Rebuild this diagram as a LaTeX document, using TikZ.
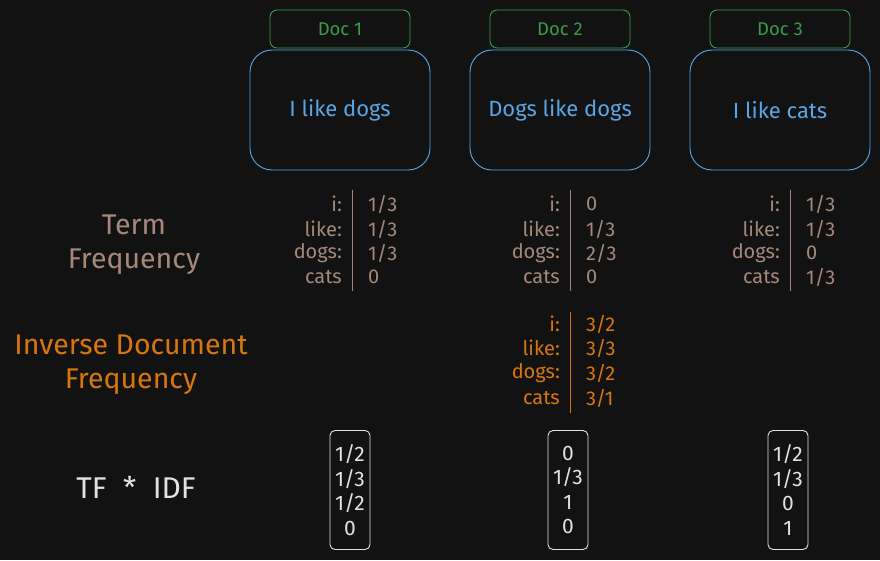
\documentclass[tikz,border=0pt]{standalone}
\usepackage{fontspec}
\setmainfont{Fira Sans}
\usetikzlibrary{positioning}
\definecolor{DBack}{HTML}{121212}
\definecolor{DGreen}{HTML}{3A9A48}
\definecolor{DBlue}{HTML}{58A6E6}
\definecolor{DBrown}{HTML}{A6887B}
\definecolor{DOrange}{HTML}{D8760E}
\definecolor{DWhite}{HTML}{E2E2E2}

\begin{document}
\begin{tikzpicture}[
  x=1pt,y=-1pt,
  every node/.style={font=\fontsize{20}{22}\selectfont,inner sep=0pt},
  docname/.style={draw=DGreen,line width=0.9pt,rounded corners=7pt,
    minimum width=140pt,minimum height=38pt,text=DGreen,
    font=\fontsize{18.5}{22}\selectfont},
  docbody/.style={draw=DBlue,line width=0.9pt,rounded corners=22pt,
    minimum width=180pt,minimum height=120pt,text=DBlue,
    font=\fontsize{22}{26}\selectfont},
  title/.style={align=center,font=\fontsize{28.5}{34}\selectfont},
  term/.style={anchor=east},
  val/.style={anchor=west},
  vecbox/.style={draw=DWhite,line width=0.9pt,rounded corners=5pt,
    minimum width=40pt,minimum height=119pt,text=DWhite,align=center,
    font=\fontsize{21}{24.5}\selectfont},
  rule/.style={line width=0.9pt}
]
  \useasboundingbox[fill=DBack] (0,0) rectangle (880,560);

  % documents
  \node[docname] (name1) at (340,29) {Doc 1};
  \node[docname] (name2) at (560,29) {Doc 2};
  \node[docname] (name3) at (780,29) {Doc 3};
  \node[docbody] (doc1) at (340,110) {I like dogs};
  \node[docbody] (doc2) at (560,110) {Dogs like dogs};
  \node[docbody] (doc3) at (780,110) {I like cats};

  % row titles
  \node[title,text=DBrown] (tftitle) at (134,245) {Term\\Frequency};
  \node[title,text=DOrange] (idftitle) at (131,365) {Inverse Document\\Frequency};
  \node[title,text=DWhite,font=\fontsize{30}{34}\selectfont] (tfidftitle)
    at (136,487) {TF\hspace{0.55em}*\hspace{0.55em}IDF};

  % term frequency tables
  \foreach \col/\cx/\va/\vb/\vc/\vd in {1/352/1\slash3/1\slash3/1\slash3/0,
      2/570/0/1\slash3/2\slash3/0, 3/790/1\slash3/1\slash3/0/1\slash3}{
    \begin{scope}[text=DBrown]
      \node[term] (tf\col-i) at (\cx-10,204) {i:};
      \node[term] (tf\col-like) at (\cx-10,229) {like:};
      \node[term] (tf\col-dogs) at (\cx-10,253) {dogs:};
      \node[term] (tf\col-cats) at (\cx-10,277) {cats};
      \node[val] (tf\col-vi) at (\cx+16,204) {\va};
      \node[val] (tf\col-vlike) at (\cx+16,229) {\vb};
      \node[val] (tf\col-vdogs) at (\cx+16,253) {\vc};
      \node[val] (tf\col-vcats) at (\cx+16,277) {\vd};
    \end{scope}
    \coordinate (tf\col-top) at (\cx,190);
    \coordinate (tf\col-bot) at (\cx,291);
    \draw[rule,DBrown] (tf\col-top) -- (tf\col-bot);
  }

  % inverse document frequency
  \begin{scope}[text=DOrange]
    \node[term] (idf-i) at (560,324) {i:};
    \node[term] (idf-like) at (560,348) {like:};
    \node[term] (idf-dogs) at (560,373) {dogs:};
    \node[term] (idf-cats) at (560,398) {cats};
    \node[val] (idf-vi) at (586,324) {3/2};
    \node[val] (idf-vlike) at (586,348) {3/3};
    \node[val] (idf-vdogs) at (586,373) {3/2};
    \node[val] (idf-vcats) at (586,398) {3/1};
  \end{scope}
  \coordinate (idf-top) at (570,312);
  \coordinate (idf-bot) at (570,413);
  \draw[rule,DOrange] (idf-top) -- (idf-bot);

  % tf*idf vectors
  \node[vecbox] (vec1) at (350,490) {1/2\\1/3\\1/2\\0};
  \node[vecbox] (vec2) at (568,490) {0\\1/3\\1\\0};
  \node[vecbox] (vec3) at (788,490) {1/2\\1/3\\0\\1};
\end{tikzpicture}
\end{document}
